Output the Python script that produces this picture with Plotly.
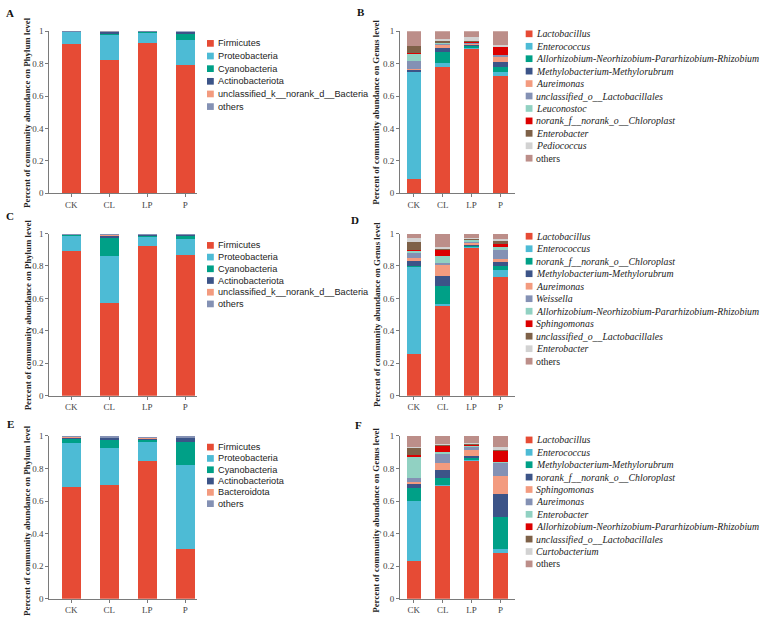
import plotly.graph_objects as go

W, H = 767, 624

categories = ["CK", "CL", "LP", "P"]
yticks = [0, 0.2, 0.4, 0.6, 0.8, 1]
yticklabels = ["0", "0.2", "0.4", "0.6", "0.8", "1"]

palette = ["#E64B35", "#4DBBD5", "#00A087", "#3C5488", "#F39B7F", "#8491B4",
           "#91D1C2", "#DC0000", "#7E6148", "#D2D2D2", "#BC8E89"]

taxa_A = ["Firmicutes", "Proteobacteria", "Cyanobacteria", "Actinobacteriota",
          "unclassified_k__norank_d__Bacteria", "others"]
taxa_C = list(taxa_A)
taxa_E = ["Firmicutes", "Proteobacteria", "Cyanobacteria", "Actinobacteriota",
          "Bacteroidota", "others"]
taxa_B = ["Lactobacillus", "Enterococcus", "Allorhizobium-Neorhizobium-Pararhizobium-Rhizobium",
          "Methylobacterium-Methylorubrum", "Aureimonas", "unclassified_o__Lactobacillales",
          "Leuconostoc", "norank_f__norank_o__Chloroplast", "Enterobacter", "Pediococcus", "others"]
taxa_D = ["Lactobacillus", "Enterococcus", "norank_f__norank_o__Chloroplast",
          "Methylobacterium-Methylorubrum", "Aureimonas", "Weissella",
          "Allorhizobium-Neorhizobium-Pararhizobium-Rhizobium", "Sphingomonas",
          "unclassified_o__Lactobacillales", "Enterobacter", "others"]
taxa_F = ["Lactobacillus", "Enterococcus", "Methylobacterium-Methylorubrum",
          "norank_f__norank_o__Chloroplast", "Sphingomonas", "Aureimonas", "Enterobacter",
          "Allorhizobium-Neorhizobium-Pararhizobium-Rhizobium", "unclassified_o__Lactobacillales",
          "Curtobacterium", "others"]

# values: one row per taxon, columns = CK, CL, LP, P
values_A = [[0.920, 0.820, 0.930, 0.790],
            [0.075, 0.160, 0.062, 0.155],
            [0.001, 0.006, 0.002, 0.040],
            [0.002, 0.010, 0.004, 0.012],
            [0.000, 0.001, 0.000, 0.000],
            [0.002, 0.003, 0.002, 0.003]]
values_C = [[0.890, 0.571, 0.921, 0.870],
            [0.103, 0.293, 0.064, 0.096],
            [0.004, 0.110, 0.007, 0.024],
            [0.001, 0.019, 0.005, 0.007],
            [0.000, 0.002, 0.000, 0.000],
            [0.002, 0.005, 0.003, 0.003]]
values_E = [[0.685, 0.699, 0.847, 0.307],
            [0.270, 0.229, 0.121, 0.514],
            [0.032, 0.048, 0.008, 0.145],
            [0.006, 0.016, 0.007, 0.026],
            [0.001, 0.001, 0.008, 0.001],
            [0.002, 0.002, 0.002, 0.002]]
values_B = [[0.085, 0.781, 0.889, 0.721],
            [0.662, 0.022, 0.005, 0.028],
            [0.004, 0.072, 0.015, 0.030],
            [0.010, 0.020, 0.008, 0.033],
            [0.004, 0.024, 0.008, 0.030],
            [0.050, 0.004, 0.004, 0.010],
            [0.048, 0.003, 0.003, 0.003],
            [0.002, 0.005, 0.003, 0.048],
            [0.043, 0.008, 0.002, 0.002],
            [0.003, 0.012, 0.030, 0.008],
            [0.089, 0.049, 0.033, 0.087]]
values_D = [[0.257, 0.557, 0.919, 0.729],
            [0.543, 0.008, 0.005, 0.048],
            [0.003, 0.113, 0.007, 0.023],
            [0.035, 0.059, 0.005, 0.024],
            [0.012, 0.077, 0.012, 0.020],
            [0.033, 0.003, 0.003, 0.057],
            [0.014, 0.045, 0.012, 0.015],
            [0.003, 0.045, 0.005, 0.021],
            [0.047, 0.003, 0.003, 0.025],
            [0.027, 0.007, 0.002, 0.004],
            [0.026, 0.083, 0.027, 0.034]]
values_F = [[0.229, 0.698, 0.852, 0.280],
            [0.373, 0.003, 0.003, 0.026],
            [0.078, 0.040, 0.012, 0.197],
            [0.028, 0.048, 0.011, 0.142],
            [0.012, 0.047, 0.035, 0.112],
            [0.024, 0.056, 0.022, 0.077],
            [0.124, 0.010, 0.005, 0.007],
            [0.016, 0.041, 0.010, 0.072],
            [0.045, 0.003, 0.002, 0.003],
            [0.004, 0.005, 0.003, 0.015],
            [0.067, 0.049, 0.045, 0.069]]

ytitle_phylum = "Percent of community abundance on Phylum level"
ytitle_genus = "Percent of community abundance on Genus level"


def px(x):
    return x / W


def py(y):
    return 1 - y / H


# panel definitions: letter, taxa, values, column, row, genus?, legend first y, legend step
panels = [
    ("A", taxa_A, values_A, 0, 0, False, 39.0, 12.85),
    ("B", taxa_B, values_B, 1, 0, True, 29.3, 12.64),
    ("C", taxa_C, values_C, 0, 1, False, 244.3, 11.9),
    ("D", taxa_D, values_D, 1, 1, True, 235.0, 12.7),
    ("E", taxa_E, values_E, 0, 2, False, 449.3, 11.5),
    ("F", taxa_F, values_F, 1, 2, True, 442.0, 12.6),
]

col_x = [(49.3, 197.3), (400.0, 515.0)]
col_range = [(-0.579, 3.318), (-0.478, 3.502)]
col_barw = [0.506, 0.5]
row_y = [(26.7, 191.3), (232.3, 397.0), (438.0, 603.3)]
letter_pos = {"A": (9.5, 8.5), "B": (361, 7), "C": (9.5, 214), "D": (355, 218),
              "E": (10, 426), "F": (358, 427)}
title_x = [27.7, 376.5]
sq_x = [207.0, 525.7]
txt_x = [215.5, 534.3]

fig = go.Figure()
annotations = []
shapes = []
layout_axes = {}

for i, (letter, taxa, vals, col, row, genus, ly0, lstep) in enumerate(panels):
    n = i + 1
    xa = "x" if n == 1 else f"x{n}"
    ya = "y" if n == 1 else f"y{n}"
    xkey = "xaxis" if n == 1 else f"xaxis{n}"
    ykey = "yaxis" if n == 1 else f"yaxis{n}"
    x0, x1 = col_x[col]
    ytop, ybot = row_y[row]
    for k, name in enumerate(taxa):
        fig.add_trace(go.Bar(
            x=categories, y=vals[k], name=name, xaxis=xa, yaxis=ya,
            width=col_barw[col], marker=dict(color=palette[k], line=dict(width=0)),
            showlegend=False))
    layout_axes[xkey] = dict(
        domain=[px(x0), px(x1)], anchor=ya, range=list(col_range[col]),
        showline=True, linecolor="#7a7a7a", linewidth=1, ticks="outside",
        ticklen=3, tickcolor="#7a7a7a", showgrid=False, zeroline=False,
        tickfont=dict(family="Liberation Serif", size=9, color="#444"))
    layout_axes[ykey] = dict(
        domain=[py(ybot), py(ytop)], anchor=xa, range=[0, 1],
        tickvals=yticks, ticktext=yticklabels,
        showline=True, linecolor="#7a7a7a", linewidth=1, ticks="outside",
        ticklen=3, tickcolor="#7a7a7a", showgrid=False, zeroline=False,
        tickfont=dict(family="Liberation Serif", size=9, color="#444"))
    # panel letter
    lx, lyy = letter_pos[letter]
    annotations.append(dict(text="<b>" + letter + "</b>", x=px(lx), y=py(lyy),
                            xref="paper", yref="paper", showarrow=False,
                            xanchor="center", yanchor="middle",
                            font=dict(family="Liberation Serif", size=11, color="#111")))
    # y title
    annotations.append(dict(text="<b>" + (ytitle_genus if genus else ytitle_phylum) + "</b>",
                            x=px(title_x[col]), y=py((ytop + ybot) / 2 + (3 if row == 2 else 0)),
                            xref="paper", yref="paper", showarrow=False, textangle=-90,
                            xanchor="center", yanchor="middle",
                            font=dict(family="Liberation Serif", size=8.9, color="#222")))
    # legend
    for k, name in enumerate(taxa):
        yc = ly0 + k * lstep
        shapes.append(dict(type="rect", xref="paper", yref="paper",
                           x0=px(sq_x[col]), x1=px(sq_x[col] + 6.8),
                           y0=py(yc + 3.4), y1=py(yc - 3.4),
                           fillcolor=palette[k], line=dict(width=0)))
        if genus:
            label = name if name == "others" else "<i>" + name + "</i>"
            fnt = dict(family="Liberation Serif", size=9.8, color="#222")
        else:
            label = name
            fnt = dict(family="Liberation Sans", size=9.2, color="#222")
        annotations.append(dict(text=label, x=px(txt_x[col]), y=py(yc),
                                xref="paper", yref="paper", showarrow=False,
                                xanchor="left", yanchor="middle", font=fnt))

fig.update_layout(
    width=W, height=H, margin=dict(l=0, r=0, t=0, b=0),
    paper_bgcolor="white", plot_bgcolor="white",
    barmode="stack", showlegend=False,
    annotations=annotations, shapes=shapes, **layout_axes)

fig.write_html("out.html")
